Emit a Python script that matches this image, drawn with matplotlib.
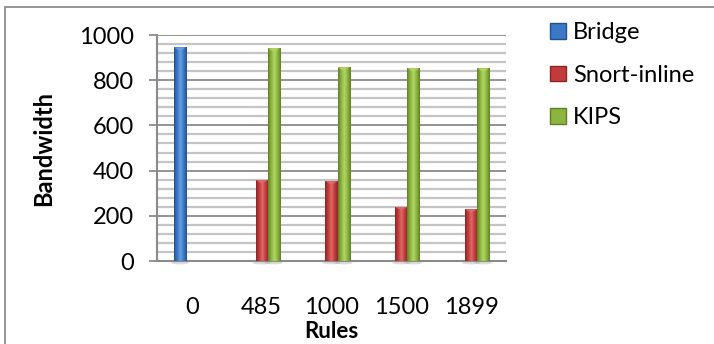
import numpy as np
import matplotlib
matplotlib.use("Agg")
import matplotlib.pyplot as plt
from matplotlib.colors import LinearSegmentedColormap
from matplotlib.patches import Polygon, Rectangle, Ellipse, Patch
from matplotlib.ticker import MultipleLocator

plt.rcParams['font.family'] = ['Lato', 'DejaVu Sans']

# Data
rules = ["0", "485", "1000", "1500", "1899"]
series_names = ["Bridge", "Snort-inline", "KIPS"]
bridge = [945, np.nan, np.nan, np.nan, np.nan]
snort_inline = [np.nan, 358, 353, 239, 229]
kips = [np.nan, 941, 857, 853, 852]

# Style per series: (base, dark edge, highlight)
palettes = {
    "Bridge": ("#3b78c6", "#24508c", "#6a9fe0"),
    "Snort-inline": ("#c23b3b", "#8a2424", "#de6a6a"),
    "KIPS": ("#8cb43f", "#5f7f26", "#b2d665"),
}

fig = plt.figure(figsize=(7.14, 3.44), dpi=100)
ax = fig.add_axes([157 / 714, 1 - 261 / 344, (506 - 157) / 714, (261 - 35) / 344])

x = np.arange(len(rules))
width = 0.172
offsets = [-width, 0.0, width]
values = [bridge, snort_inline, kips]

ax.set_xlim(-0.5, len(rules) - 0.5)
ax.set_ylim(0, 1000)

# Gridlines: major every 200, minor every 40
ax.yaxis.set_major_locator(MultipleLocator(200))
ax.yaxis.set_minor_locator(MultipleLocator(40))
ax.grid(axis='y', which='major', color='#8a8a8a', linewidth=1.3, zorder=0)
ax.grid(axis='y', which='minor', color='#c4c4c4', linewidth=1.6, zorder=0)
ax.set_axisbelow(True)

ax.set_facecolor('white')
for s in ['top', 'right']:
    ax.spines[s].set_visible(False)
ax.spines['left'].set_color('#8a8a8a')
ax.spines['left'].set_linewidth(1.5)
ax.spines['bottom'].set_color('#8a8a8a')
ax.spines['bottom'].set_linewidth(1.5)

ax.tick_params(axis='y', which='major', length=5.5, width=1.3, color='#8a8a8a',
               labelsize=17, pad=11)
ax.tick_params(axis='y', which='minor', length=0)
ax.tick_params(axis='x', length=0, labelsize=17, pad=26)
ax.set_xticks(x)
ax.set_xticklabels(rules)

for name, vals, off in zip(series_names, values, offsets):
    base, dark, light = palettes[name]
    cmap = LinearSegmentedColormap.from_list(
        name, [dark, base, light, base, dark], N=64)
    bars = ax.bar(x + off, vals, width=width, color=base, edgecolor='none',
                  zorder=3, label=name)
    for rect in bars:
        h = rect.get_height()
        if not np.isfinite(h) or h <= 0:
            continue
        x0, w = rect.get_x(), rect.get_width()
        # cylinder-like horizontal shading
        grad = np.linspace(0, 1, 64).reshape(1, -1)
        im = ax.imshow(grad, cmap=cmap, aspect='auto', extent=(x0, x0 + w, 0, h),
                       zorder=3.5, interpolation='bilinear')
        im.set_clip_path(rect)
        # beveled top facet
        tip = 16
        ax.add_patch(Polygon([(x0, h), (x0 + w, h), (x0 + w / 2, h - tip)],
                             closed=True, facecolor=light, edgecolor='none',
                             zorder=4, alpha=0.9))
        # soft shadow at the base
        ax.add_patch(Ellipse((x0 + w / 2, -8), w * 1.5, 14, facecolor='#9a9a9a',
                             edgecolor='none', alpha=0.35, zorder=2, clip_on=False))

ax.set_ylabel("Bandwidth", fontsize=17, fontweight='bold', va='center')
ax.yaxis.set_label_coords((44 - 157) / 349, 0.5)
ax.set_xlabel("Rules", fontsize=16, fontweight='bold', va='center')
ax.xaxis.set_label_coords(0.5, (261 - 331) / 226)

# Legend with square keys
leg_handles = [Patch(facecolor=palettes[n][0], edgecolor=palettes[n][1], linewidth=1.0)
               for n in series_names]
fig.legend(leg_handles, series_names, loc='upper left',
           bbox_to_anchor=(541 / 714, 1 - 13 / 344), frameon=False, fontsize=17,
           handlelength=0.65, handleheight=0.65, handletextpad=0.3,
           labelspacing=0.9, borderaxespad=0)

# Chart area border
fig.add_artist(Rectangle((5 / 714, -0.05), 1.0, 1 - 7 / 344 + 0.05,
                         transform=fig.transFigure, fill=False,
                         edgecolor='#8c8c8c', linewidth=1.3))

fig.savefig("out.png", dpi=100)
